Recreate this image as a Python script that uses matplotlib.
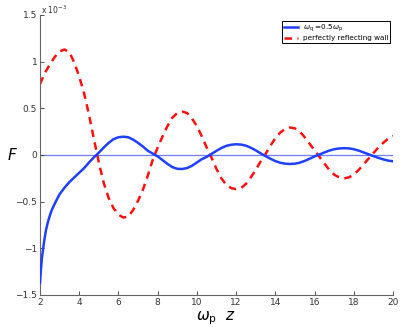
import numpy as np
import matplotlib
matplotlib.use('Agg')
import matplotlib.pyplot as plt

# F values are in units of 1e-3
z_blue = [2.00, 2.05, 2.10, 2.15, 2.20, 2.30, 2.40, 2.50, 2.60, 2.80, 3.00, 3.25,
          3.50, 3.75, 4.00, 4.25, 4.50, 4.75, 5.00, 5.25, 5.50, 5.75, 6.00, 6.25,
          6.50, 6.75, 7.00, 7.25, 7.50, 7.75, 8.00, 8.25, 8.50, 8.75, 9.00, 9.25,
          9.50, 9.75, 10.00, 10.25, 10.50, 10.75, 11.00, 11.25, 11.50, 11.75, 12.00,
          12.25, 12.50, 12.75, 13.00, 13.25, 13.50, 13.75, 14.00, 14.25, 14.50, 14.75,
          15.00, 15.25, 15.50, 15.75, 16.00, 16.25, 16.50, 16.75, 17.00, 17.25, 17.50,
          17.75, 18.00, 18.25, 18.50, 18.75, 19.00, 19.25, 19.50, 19.75, 20.00]
F_blue = [-1.37, -1.22, -1.10, -1.02, -0.94, -0.81, -0.72, -0.65, -0.59, -0.50, -0.42, -0.35,
          -0.29, -0.24, -0.19, -0.14, -0.08, -0.025, 0.025, 0.08, 0.13, 0.17, 0.19, 0.196,
          0.19, 0.165, 0.13, 0.09, 0.045, 0.015, -0.015, -0.055, -0.095, -0.13, -0.148, -0.15,
          -0.14, -0.115, -0.08, -0.045, -0.02, 0.012, 0.045, 0.075, 0.098, 0.11, 0.115,
          0.112, 0.10, 0.078, 0.05, 0.018, -0.012, -0.04, -0.065, -0.083, -0.093, -0.096,
          -0.093, -0.082, -0.063, -0.04, -0.015, 0.005, 0.027, 0.047, 0.062, 0.07, 0.073,
          0.071, 0.062, 0.047, 0.028, 0.008, -0.012, -0.03, -0.047, -0.06, -0.068]

z_red = [2.00, 2.25, 2.50, 2.75, 3.00, 3.25, 3.50, 3.75, 4.00, 4.25, 4.50, 4.75,
         5.00, 5.25, 5.50, 5.75, 6.00, 6.25, 6.50, 6.75, 7.00, 7.25, 7.50, 7.75,
         8.00, 8.25, 8.50, 8.75, 9.00, 9.25, 9.50, 9.75, 10.00, 10.25, 10.50, 10.75,
         11.00, 11.25, 11.50, 11.75, 12.00, 12.25, 12.50, 12.75, 13.00, 13.25, 13.50,
         13.75, 14.00, 14.25, 14.50, 14.75, 15.00, 15.25, 15.50, 15.75, 16.00, 16.25,
         16.50, 16.75, 17.00, 17.25, 17.50, 17.75, 18.00, 18.25, 18.50, 18.75, 19.00,
         19.25, 19.50, 19.75, 20.00]
F_red = [0.76, 0.88, 0.97, 1.05, 1.11, 1.13, 1.10, 0.99, 0.84, 0.66, 0.43, 0.17,
         -0.08, -0.30, -0.46, -0.57, -0.64, -0.67, -0.66, -0.59, -0.49, -0.37, -0.22, -0.05,
         0.08, 0.20, 0.31, 0.40, 0.45, 0.465, 0.45, 0.39, 0.31, 0.20, 0.08, -0.03,
         -0.15, -0.25, -0.32, -0.355, -0.365, -0.355, -0.31, -0.24, -0.16, -0.07, 0.01,
         0.10, 0.18, 0.24, 0.28, 0.295, 0.285, 0.25, 0.19, 0.12, 0.05, -0.02,
         -0.09, -0.16, -0.21, -0.24, -0.25, -0.24, -0.21, -0.16, -0.10, -0.04, 0.02,
         0.08, 0.13, 0.175, 0.205]

xticks = [2, 4, 6, 8, 10, 12, 14, 16, 18, 20]
yticks = [-1.5, -1, -0.5, 0, 0.5, 1, 1.5]
ytick_labels = ['\u22121.5', '\u22121', '\u22120.5', '0', '0.5', '1', '1.5']

fig = plt.figure(figsize=(4.01, 3.27), dpi=100)
ax = fig.add_axes([40/401, 1 - 295/327, 353/401, 280/327])

ax.axhline(0, color='#6f7fff', lw=0.9, zorder=1)
ax.plot(z_blue, F_blue, color='#2040ff', lw=1.8, label=r'$\omega_{\rm q}$ =0.5$\omega_{\rm p}$', zorder=3)
ax.plot(z_red, F_red, color='#ff1010', lw=1.8, ls=(0, (3, 2.2)), label='perfectly reflecting wall', zorder=2)

ax.set_xlim(2, 20)
ax.set_ylim(-1.5, 1.5)
ax.set_xticks(xticks)
ax.set_xticklabels([str(t) for t in xticks])
ax.set_yticks(yticks)
ax.set_yticklabels(ytick_labels)
ax.tick_params(direction='in', length=3, width=0.6, labelsize=6.5, colors='#333333', pad=2)
for s in ['top', 'right']:
    ax.spines[s].set_visible(False)
for s in ['left', 'bottom']:
    ax.spines[s].set_color('#666666')
    ax.spines[s].set_linewidth(0.8)

fig.text(41/401, 1 - 10/327, r'x 10$^{-3}$', fontsize=5.5, color='#333333', va='center')
fig.text(12/401, 1 - 155/327, r'$F$', fontsize=11, ha='center', va='center')
ax.set_xlabel(r'$\omega_{\rm p}\ \ z$', fontsize=11, labelpad=2)

leg = ax.legend(loc='upper right', bbox_to_anchor=(390/401, 1 - 20.7/327),
                bbox_transform=fig.transFigure, borderaxespad=0, fontsize=5.2,
                fancybox=False, framealpha=1, edgecolor='black', handlelength=2.0,
                handletextpad=0.6, borderpad=0.25, labelspacing=0.15)
leg.get_frame().set_linewidth(0.7)

fig.savefig('out.png', dpi=100)
